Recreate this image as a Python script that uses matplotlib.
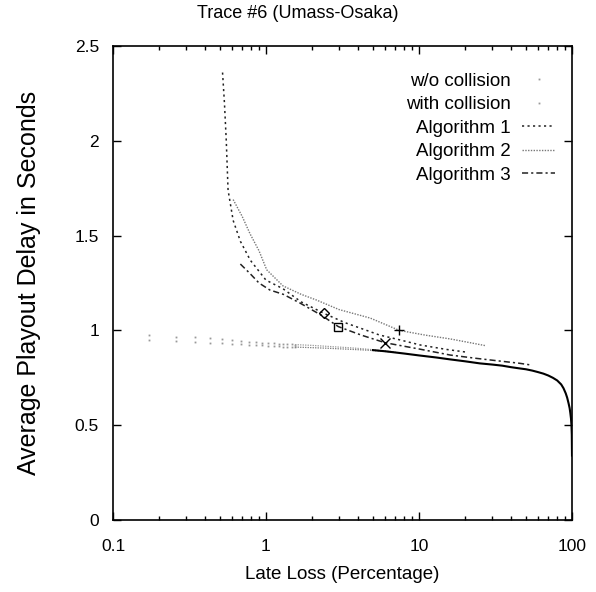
import matplotlib
matplotlib.use('Agg')
import matplotlib.pyplot as plt
from matplotlib.lines import Line2D
from matplotlib.ticker import FixedLocator, NullFormatter

plt.rcParams['font.family'] = ['Liberation Sans', 'DejaVu Sans']

# late loss (%) / delay (s)
loss_sparse = [0.172, 0.258, 0.345, 0.431, 0.517, 0.603, 0.69, 0.776, 0.862, 0.948, 1.03,
               1.12, 1.21, 1.29, 1.38, 1.47, 1.55]
wo_sparse = [0.976, 0.967, 0.963, 0.958, 0.953, 0.949, 0.944, 0.941, 0.938, 0.935, 0.933,
             0.931, 0.929, 0.928, 0.927, 0.926, 0.925]
with_sparse = [0.949, 0.943, 0.940, 0.935, 0.932, 0.928, 0.927, 0.925, 0.923, 0.921, 0.920,
               0.918, 0.916, 0.915, 0.914, 0.913, 0.912]

loss_mid = [1.55, 2.0, 2.5, 3.0, 3.6, 4.3, 5.0, 6.0, 7.0]
wo_mid = [0.925, 0.921, 0.916, 0.912, 0.908, 0.903, 0.898, 0.892, 0.886]
with_mid = [0.912, 0.909, 0.906, 0.903, 0.900, 0.897, 0.894, 0.889, 0.884]

loss_tail = [5.0, 6.0, 8, 10, 13, 16, 20, 25, 30, 35, 40, 45, 50, 55, 60, 65, 70, 75, 80, 85,
             88, 91, 93, 95, 96.5, 97.5, 98.5, 99.2, 99.7, 100]
delay_tail = [0.896, 0.890, 0.878, 0.868, 0.857, 0.847, 0.837, 0.826, 0.82, 0.814, 0.806, 0.80,
              0.795, 0.788, 0.78, 0.772, 0.762, 0.75, 0.736, 0.715, 0.695, 0.668, 0.645, 0.615,
              0.59, 0.565, 0.535, 0.50, 0.45, 0.34]

alg1_loss = [0.52, 0.535, 0.55, 0.565, 0.61, 0.68, 0.79, 1.0, 1.29, 1.7, 2.39, 3.3, 4.55, 5.5, 7.5, 10.2, 15, 21]
alg1_delay = [2.36, 2.2, 2.0, 1.74, 1.58, 1.47, 1.37, 1.265, 1.22, 1.15, 1.09, 1.04, 1.0, 0.976, 0.95, 0.923, 0.9, 0.884]

alg2_loss = [0.61, 0.7, 0.786, 0.9, 1.01, 1.29, 1.7, 2.14, 3.0, 4.8, 7.44, 11, 16, 21, 27.4]
alg2_delay = [1.69, 1.6, 1.51, 1.42, 1.32, 1.235, 1.19, 1.16, 1.11, 1.065, 1.0, 0.975, 0.955, 0.937, 0.919]

alg3_loss = [0.68, 0.786, 0.9, 1.06, 1.3, 1.67, 2.3, 2.97, 4.2, 6.0, 10, 16, 24, 34, 45, 54.5]
alg3_delay = [1.35, 1.30, 1.25, 1.213, 1.19, 1.144, 1.08, 1.02, 0.975, 0.935, 0.902, 0.87, 0.852, 0.838, 0.827, 0.817]

# single marked points
mark_loss = [2.39, 2.97, 7.44, 6.0]
mark_delay = [1.09, 1.02, 1.0, 0.935]
mark_sym = ['D', 's', '+', 'x']

fig = plt.figure(figsize=(5.96, 5.92), dpi=100)
ax = fig.add_axes([113 / 596, 72 / 592, 459 / 596, 474 / 592])

ax.plot(loss_sparse, wo_sparse, ls='none', marker='s', ms=1.3, mew=0, color='#999999')
ax.plot(loss_sparse, with_sparse, ls='none', marker='s', ms=1.3, mew=0, color='#999999')
ax.plot(loss_mid, wo_mid, color='#999999', lw=0.9, ls=(0, (1, 1)))
ax.plot(loss_mid, with_mid, color='#777777', lw=0.9, ls=(0, (1, 1)))
ax.plot(loss_tail, delay_tail, color='black', lw=1.5)

ax.plot(alg1_loss, alg1_delay, color='#222222', lw=1.1, ls=(0, (1.4, 2.2)))
ax.plot(alg2_loss, alg2_delay, color='#777777', lw=1.0, ls=(0, (1, 1)))
ax.plot(alg3_loss, alg3_delay, color='#222222', lw=1.1, ls=(0, (4, 2, 1.4, 2)))

for x, y, m in zip(mark_loss, mark_delay, mark_sym):
    ax.plot([x], [y], ls='none', marker=m, ms=7 if m in '+x' else 5.5,
            mfc='none', mec='black', mew=1.0)

ax.set_xscale('log')
ax.set_xlim(0.1, 100)
ax.set_ylim(0, 2.5)
ax.xaxis.set_major_locator(FixedLocator([0.1, 1, 10, 100]))
ax.set_xticklabels(['0.1', '1', '10', '100'])
ax.xaxis.set_minor_locator(FixedLocator([d * k for d in (0.1, 1, 10) for k in range(2, 10)]))
ax.xaxis.set_minor_formatter(NullFormatter())
ax.set_yticks([0, 0.5, 1, 1.5, 2, 2.5])
ax.set_yticklabels(['0', '0.5', '1', '1.5', '2', '2.5'])
ax.tick_params(direction='in', which='both', top=True, right=True, labelsize=12.5)
ax.tick_params(which='major', length=6, width=1)
ax.tick_params(which='minor', length=3, width=1)
ax.tick_params(axis='x', pad=14)
ax.tick_params(axis='y', pad=10)
for s in ax.spines.values():
    s.set_linewidth(1.2)

# gnuplot centres the title on the whole page
fig.text(0.5, 1 - 14 / 592, 'Trace #6 (Umass-Osaka)', fontsize=13, ha='center', va='center')
ax.set_xlabel('Late Loss (Percentage)', fontsize=13.5, labelpad=8)
ax.set_ylabel('Average Playout Delay in Seconds', fontsize=18, labelpad=24)

handles = [
    Line2D([], [], ls='none', marker='s', ms=1.3, mew=0, color='#999999'),
    Line2D([], [], ls='none', marker='s', ms=1.3, mew=0, color='#999999'),
    Line2D([], [], color='#222222', lw=1.1, ls=(0, (1.4, 2.2))),
    Line2D([], [], color='#777777', lw=1.0, ls=(0, (1, 1))),
    Line2D([], [], color='#222222', lw=1.1, ls=(0, (4, 2, 1.4, 2))),
]
labels = ['w/o collision', 'with collision', 'Algorithm 1', 'Algorithm 2', 'Algorithm 3']
ax.legend(handles, labels, loc='upper right', bbox_to_anchor=(0.963, 0.944),
          frameon=False, markerfirst=False, fontsize=13.5, handlelength=1.75,
          handletextpad=0.6, labelspacing=0.34, borderpad=0, borderaxespad=0,
          numpoints=1)

fig.savefig('out.png', dpi=100)
